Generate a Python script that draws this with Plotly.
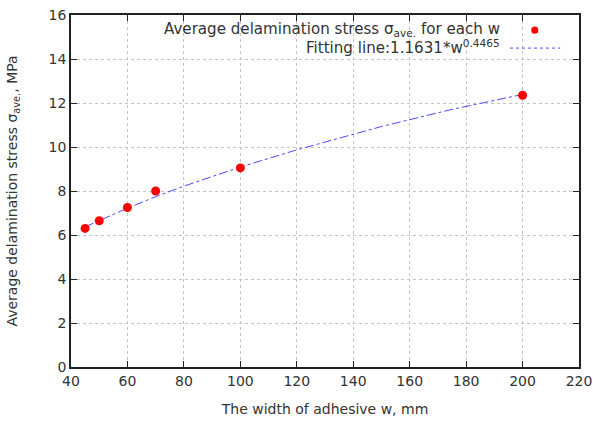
import plotly.graph_objects as go

# data
widths = [45, 50, 60, 70, 100, 200]
avg_stress = [6.3, 6.65, 7.25, 8.0, 9.05, 12.35]
fit_w = [45, 50, 60, 70, 80, 100, 120, 150, 175, 200]
fit_stress = [6.37, 6.66, 7.22, 7.74, 8.22, 9.09, 9.87, 10.93, 11.71, 12.39]
x_ticks = [40, 60, 80, 100, 120, 140, 160, 180, 200, 220]
y_ticks = [0, 2, 4, 6, 8, 10, 12, 14, 16]

font_fam = "DejaVu Sans, sans-serif"
txt = "#333333"

fig = go.Figure()
fig.add_trace(go.Scatter(x=fit_w, y=fit_stress, mode="lines",
                         line=dict(color="#4a4aff", width=1, dash="dashdot"),
                         showlegend=False))
fig.add_trace(go.Scatter(x=widths, y=avg_stress, mode="markers",
                         marker=dict(color="#ff0000", size=9, symbol="circle"),
                         showlegend=False))

axis_common = dict(showline=True, linecolor="#222", linewidth=1.5, mirror="allticks",
                   ticks="inside", ticklen=6, tickcolor="#222", automargin=False,
                   showgrid=True, gridcolor="#c4c4c4", griddash="dot", gridwidth=1,
                   zeroline=False, tickfont=dict(size=14, color=txt, family=font_fam))

fig.update_xaxes(range=[40, 220], tickvals=x_ticks,
                 title=dict(text="The width of adhesive w, mm", font=dict(size=14, color=txt, family=font_fam), standoff=17),
                 **axis_common)
fig.update_yaxes(range=[0, 16], tickvals=y_ticks,
                 title=dict(text="Average delamination stress σ<sub>ave.</sub>, MPa", font=dict(size=14, color=txt, family=font_fam), standoff=28),
                 **axis_common)

# legend (gnuplot style: text right-aligned, sample on the right)
fig.add_annotation(xref="paper", yref="paper", x=0.848, y=0.958, xanchor="right", yanchor="middle",
                   text="Average delamination stress σ<sub>ave.</sub> for each w", showarrow=False,
                   font=dict(size=15.1, color=txt, family=font_fam))
fig.add_annotation(xref="paper", yref="paper", x=0.848, y=0.91, xanchor="right", yanchor="middle",
                   text="Fitting line:1.1631*w<sup>0.4465</sup>", showarrow=False,
                   font=dict(size=15.1, color=txt, family=font_fam))
fig.add_shape(type="circle", xref="paper", yref="paper", x0=0.906, x1=0.920, y0=0.947, y1=0.967,
              fillcolor="#ff0000", line=dict(width=0))
fig.add_shape(type="line", xref="paper", yref="paper", x0=0.864, x1=0.963, y0=0.906, y1=0.906,
              line=dict(color="#4a4aff", width=1, dash="dot"))

fig.update_layout(width=593, height=421, margin=dict(l=71, r=14, t=15, b=54),
                  plot_bgcolor="white", paper_bgcolor="white",
                  font=dict(family=font_fam))

fig.write_html("out.html")
